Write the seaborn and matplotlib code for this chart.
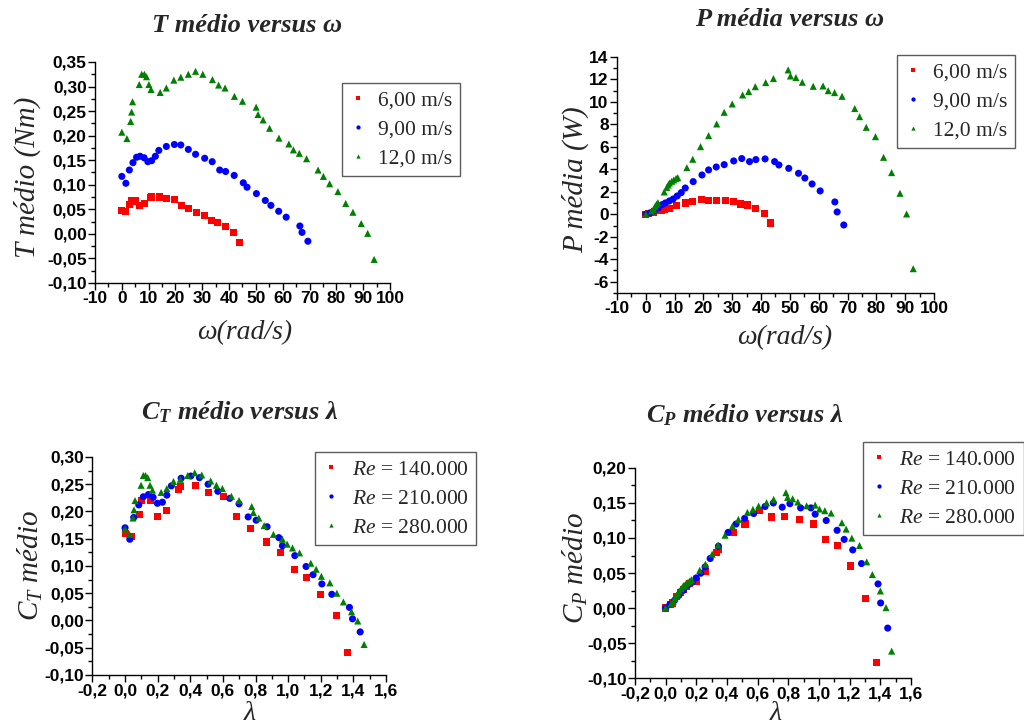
import numpy as np
import pandas as pd
import matplotlib
matplotlib.use("Agg")
import matplotlib.pyplot as plt
import seaborn as sns
from matplotlib.ticker import MultipleLocator, FuncFormatter

# ---------------- data ----------------
# Panel 1: T medio vs omega
w6_T = [0, 1.4, 2.9, 3.65, 5.0, 6.5, 8.4, 10.7, 10.9, 14.0, 16.5, 19.5, 22.1, 24.8, 27.9,
        30.8, 33.5, 35.7, 38.6, 41.8, 44.0]
T6 = [0.048, 0.046, 0.059, 0.067, 0.067, 0.057, 0.061, 0.074, 0.075, 0.075, 0.072, 0.070,
      0.057, 0.051, 0.044, 0.038, 0.028, 0.024, 0.015, 0.002, -0.018]
w9_T = [0, 1.5, 2.8, 4.15, 5.5, 6.8, 8.3, 9.7, 11.1, 12.5, 13.8, 16.6, 19.6, 22.0, 24.8, 27.5,
        30.9, 33.7, 36.5, 38.7, 41.9, 45.3, 46.7, 50.2, 53.5, 55.6, 58.5, 61.3, 66.4, 67.2, 69.4]
T9 = [0.117, 0.103, 0.130, 0.145, 0.156, 0.158, 0.155, 0.147, 0.149, 0.158, 0.170, 0.178,
      0.182, 0.181, 0.172, 0.162, 0.154, 0.147, 0.130, 0.127, 0.119, 0.104, 0.095, 0.082,
      0.068, 0.058, 0.046, 0.034, 0.016, 0.003, -0.015]
w12_T = [0, 1.9, 3.3, 3.65, 4.0, 6.5, 7.4, 8.4, 9.2, 10.1, 10.9, 14.3, 16.6, 19.4, 22.0, 24.8,
         27.5, 30.2, 33.8, 36.1, 38.5, 42.0, 45.0, 50.1, 50.8, 52.7, 55.1, 58.6, 62.3, 64.0,
         66.2, 68.9, 73.2, 75.2, 77.5, 80.6, 83.5, 86.2, 89.3, 91.7, 94.1]
T12 = [0.207, 0.194, 0.229, 0.248, 0.269, 0.304, 0.325, 0.325, 0.320, 0.304, 0.294, 0.288,
       0.297, 0.313, 0.319, 0.325, 0.331, 0.325, 0.314, 0.303, 0.297, 0.280, 0.270, 0.258,
       0.243, 0.232, 0.215, 0.195, 0.183, 0.171, 0.164, 0.153, 0.130, 0.117, 0.102, 0.086,
       0.062, 0.044, 0.021, 0.001, -0.052]

# Panel 2: P media vs omega
w6_P = [0, 1.0, 2.7, 4.2, 5.3, 6.6, 8.2, 10.7, 13.9, 16.2, 19.35, 21.8, 24.6, 27.6, 30.5,
        32.9, 35.3, 38.0, 41.1, 43.3]
P6 = [0, 0.06, 0.18, 0.30, 0.36, 0.42, 0.50, 0.77, 1.01, 1.13, 1.34, 1.25, 1.25, 1.19, 1.13,
      0.92, 0.83, 0.53, 0.09, -0.77]
w9_P = [0, 1.4, 2.9, 4.3, 5.7, 6.8, 8.2, 9.5, 10.9, 12.3, 13.7, 16.45, 19.5, 21.8, 24.45,
        27.2, 30.5, 33.3, 36.0, 38.2, 41.4, 44.7, 46.2, 49.6, 53.0, 55.2, 57.7, 60.5, 65.6,
        66.4, 68.7]
P9 = [0, 0.12, 0.30, 0.56, 0.86, 1.01, 1.19, 1.36, 1.63, 1.93, 2.34, 2.91, 3.50, 3.95, 4.21,
      4.42, 4.75, 4.96, 4.69, 4.87, 4.93, 4.69, 4.39, 4.09, 3.65, 3.23, 2.70, 2.08, 1.10,
      0.21, -0.95]
w12_P = [0, 2.0, 2.7, 3.2, 3.7, 4.2, 6.4, 7.3, 7.8, 8.2, 9.0, 9.7, 10.5, 11.1, 14.25, 16.3,
         19.0, 21.8, 24.6, 27.2, 30.0, 33.6, 35.7, 38.0, 41.6, 44.3, 49.4, 50.2, 52.1, 54.3,
         58.1, 61.5, 63.3, 65.5, 68.1, 72.5, 74.2, 76.5, 79.7, 82.5, 85.3, 88.2, 90.5, 92.8]
P12 = [0, 0.30, 0.45, 0.68, 0.89, 1.04, 1.99, 2.40, 2.61, 2.79, 2.94, 3.06, 3.20, 3.26, 4.15,
       4.90, 6.02, 7.00, 8.04, 9.08, 9.82, 10.62, 10.92, 11.36, 11.72, 12.08, 12.85, 12.31,
       12.17, 11.75, 11.39, 11.42, 11.00, 10.83, 10.50, 9.41, 8.69, 7.74, 6.91, 5.07, 3.71,
       1.87, 0.03, -4.84]

# Panel 3: C_T vs lambda
l140_T = [0.0, 0.039, 0.088, 0.10, 0.157, 0.198, 0.255, 0.327, 0.339, 0.434, 0.511, 0.603,
          0.685, 0.769, 0.869, 0.955, 1.039, 1.112, 1.196, 1.299, 1.366]
CT140 = [0.159, 0.154, 0.195, 0.220, 0.220, 0.190, 0.202, 0.240, 0.245, 0.247, 0.235, 0.228,
         0.190, 0.169, 0.144, 0.124, 0.094, 0.079, 0.048, 0.009, -0.059]
l210_T = [0.0, 0.029, 0.053, 0.084, 0.112, 0.143, 0.172, 0.198, 0.229, 0.256, 0.284, 0.344,
          0.403, 0.456, 0.509, 0.569, 0.642, 0.699, 0.755, 0.804, 0.871, 0.943, 0.965, 1.041,
          1.110, 1.153, 1.207, 1.268, 1.376, 1.395, 1.442]
CT210 = [0.170, 0.149, 0.189, 0.212, 0.227, 0.231, 0.226, 0.215, 0.217, 0.230, 0.247, 0.261,
         0.265, 0.262, 0.250, 0.237, 0.224, 0.214, 0.190, 0.184, 0.172, 0.152, 0.137, 0.119,
         0.099, 0.084, 0.067, 0.048, 0.024, 0.003, -0.021]
l280_T = [0.0, 0.027, 0.049, 0.055, 0.061, 0.098, 0.112, 0.125, 0.139, 0.153, 0.168, 0.221,
          0.256, 0.297, 0.339, 0.384, 0.427, 0.470, 0.525, 0.560, 0.597, 0.652, 0.699, 0.777,
          0.787, 0.820, 0.853, 0.910, 0.965, 0.994, 1.027, 1.070, 1.139, 1.172, 1.204, 1.256,
          1.299, 1.339, 1.389, 1.427, 1.466]
CT280 = [0.168, 0.158, 0.188, 0.203, 0.220, 0.248, 0.266, 0.266, 0.262, 0.248, 0.239, 0.235,
         0.242, 0.255, 0.259, 0.266, 0.271, 0.267, 0.256, 0.248, 0.242, 0.228, 0.220, 0.209,
         0.198, 0.188, 0.174, 0.158, 0.149, 0.140, 0.133, 0.124, 0.105, 0.094, 0.081, 0.069,
         0.050, 0.034, 0.016, -0.001, -0.044]

# Panel 4: C_P vs lambda
l140_P = [0, 0.033, 0.043, 0.072, 0.095, 0.117, 0.134, 0.158, 0.202, 0.26, 0.33, 0.343, 0.44,
          0.518, 0.612, 0.69, 0.777, 0.876, 0.963, 1.046, 1.119, 1.206, 1.306, 1.377]
CP140 = [0, 0.0053, 0.0072, 0.0158, 0.0215, 0.0263, 0.031, 0.0349, 0.0382, 0.052, 0.079,
         0.0836, 0.108, 0.120, 0.139, 0.130, 0.131, 0.126, 0.120, 0.098, 0.089, 0.060, 0.013,
         -0.078]
l210_P = [0, 0.028, 0.059, 0.087, 0.117, 0.145, 0.174, 0.2, 0.23, 0.258, 0.291, 0.345, 0.408,
          0.46, 0.516, 0.575, 0.649, 0.703, 0.761, 0.811, 0.881, 0.948, 0.976, 1.048, 1.119,
          1.165, 1.221, 1.278, 1.386, 1.403, 1.449]
CP210 = [0, 0.0048, 0.011, 0.018, 0.0253, 0.0325, 0.0368, 0.043, 0.0497, 0.0587, 0.0707,
         0.0883, 0.108, 0.120, 0.128, 0.135, 0.145, 0.150, 0.144, 0.149, 0.143, 0.143, 0.134,
         0.125, 0.111, 0.098, 0.083, 0.0635, 0.0344, 0.0072, -0.0287]
l280_P = [0, 0.035, 0.05, 0.061, 0.072, 0.080, 0.089, 0.102, 0.113, 0.121, 0.134, 0.147, 0.158,
          0.169, 0.223, 0.26, 0.304, 0.343, 0.388, 0.436, 0.475, 0.534, 0.570, 0.607, 0.659,
          0.705, 0.785, 0.796, 0.829, 0.863, 0.920, 0.976, 1.004, 1.039, 1.08, 1.15, 1.178,
          1.215, 1.265, 1.312, 1.349, 1.401, 1.438, 1.475]
CP280 = [0, 0.0057, 0.010, 0.0138, 0.0181, 0.021, 0.0244, 0.0277, 0.0306, 0.0325, 0.0349,
         0.0368, 0.0387, 0.0406, 0.054, 0.0626, 0.0769, 0.090, 0.104, 0.117, 0.1266, 0.1366,
         0.1409, 0.1457, 0.1504, 0.1552, 0.1648, 0.158, 0.156, 0.1514, 0.146, 0.147, 0.1414,
         0.139, 0.1356, 0.1218, 0.1127, 0.0998, 0.0893, 0.0659, 0.0478, 0.0244, 0.0005,
         -0.0616]

speed_labels = ["6,00 m/s", "9,00 m/s", "12,0 m/s"]
re_labels = [r"$Re$ = 140.000", r"$Re$ = 210.000", r"$Re$ = 280.000"]

# ---------------- style ----------------
sns.set_style("ticks")
plt.rcParams["font.family"] = ["Liberation Sans", "DejaVu Sans"]
plt.rcParams["mathtext.fontset"] = "custom"
plt.rcParams["mathtext.rm"] = "Liberation Serif"
plt.rcParams["mathtext.it"] = "Liberation Serif:italic"
plt.rcParams["mathtext.bf"] = "Liberation Serif:bold:italic"
plt.rcParams["xtick.direction"] = "out"
plt.rcParams["ytick.direction"] = "out"

colors = ["#ff0000", "#0000ff", "#008000"]
markers = ["s", "o", "^"]
SERIF = ["Liberation Serif", "DejaVu Serif"]

fig = plt.figure(figsize=(10.24, 7.25), dpi=100)
ax1 = fig.add_axes([0.0928, 0.6097, 0.288, 0.3048])
ax2 = fig.add_axes([0.6025, 0.5959, 0.3096, 0.3255])
ax3 = fig.add_axes([0.0903, 0.0690, 0.2866, 0.3007])
ax4 = fig.add_axes([0.6200, 0.0648, 0.2695, 0.2897])


def make_df(xs, ys, labels):
    frames = []
    for x, y, lab in zip(xs, ys, labels):
        frames.append(pd.DataFrame({"x": x, "y": y, "serie": lab}))
    return pd.concat(frames, ignore_index=True)


def draw(ax, df, labels):
    sns.scatterplot(data=df, x="x", y="y", hue="serie", style="serie",
                    hue_order=labels, style_order=labels,
                    palette=colors, markers=markers, s=26, linewidth=0,
                    ax=ax, legend="full")


def comma(dec):
    return FuncFormatter(lambda v, p: f"{v:.{dec}f}".replace(".", ","))


def style_axes(ax, xlim, ylim, xmaj, xmin, ymaj, ymin, xdec, ydec):
    ax.set_xlim(*xlim)
    ax.set_ylim(*ylim)
    ax.xaxis.set_major_locator(MultipleLocator(xmaj))
    ax.xaxis.set_minor_locator(MultipleLocator(xmin))
    ax.yaxis.set_major_locator(MultipleLocator(ymaj))
    ax.yaxis.set_minor_locator(MultipleLocator(ymin))
    ax.xaxis.set_major_formatter(comma(xdec))
    ax.yaxis.set_major_formatter(comma(ydec))
    for s in ["top", "right"]:
        ax.spines[s].set_visible(False)
    for s in ["left", "bottom"]:
        ax.spines[s].set_linewidth(1.0)
        ax.spines[s].set_color("black")
    ax.tick_params(which="major", length=5, width=1, color="black", pad=1)
    ax.tick_params(which="minor", length=3, width=1, color="black")
    for lab in ax.get_xticklabels() + ax.get_yticklabels():
        lab.set_fontweight("bold")
        lab.set_fontsize(12.5)
        lab.set_color("black")
    ax.set_xlabel("")
    ax.set_ylabel("")


def legend(ax, anchor, labels):
    h, l = ax.get_legend_handles_labels()
    leg = ax.legend(h, labels, loc="upper left", bbox_to_anchor=anchor,
                    borderaxespad=0, frameon=True, fancybox=False,
                    prop={"family": SERIF, "size": 15.5}, markerscale=0.6,
                    handlelength=0.8, handletextpad=0.55, labelspacing=0.42,
                    borderpad=0.35)
    leg.get_frame().set_edgecolor("#333333")
    leg.get_frame().set_linewidth(1.0)
    leg.set_clip_on(False)


# Panel 1
df1 = make_df([w6_T, w9_T, w12_T], [T6, T9, T12], speed_labels)
draw(ax1, df1, speed_labels)
style_axes(ax1, (-10, 100), (-0.10, 0.35), 10, 5, 0.05, 0.025, 0, 2)
legend(ax1, (0.837, 0.905), speed_labels)

# Panel 2
df2 = make_df([w6_P, w9_P, w12_P], [P6, P9, P12], speed_labels)
draw(ax2, df2, speed_labels)
style_axes(ax2, (-10, 100), (-7, 14), 10, 5, 2, 1, 0, 0)
legend(ax2, (0.883, 1.008), speed_labels)

# Panel 3
df3 = make_df([l140_T, l210_T, l280_T], [CT140, CT210, CT280], re_labels)
draw(ax3, df3, re_labels)
style_axes(ax3, (-0.2, 1.6), (-0.10, 0.30), 0.2, 0.1, 0.05, 0.025, 1, 2)
legend(ax3, (0.758, 1.023), re_labels)

# Panel 4
df4 = make_df([l140_P, l210_P, l280_P], [CP140, CP210, CP280], re_labels)
draw(ax4, df4, re_labels)
style_axes(ax4, (-0.2, 1.6), (-0.10, 0.20), 0.2, 0.1, 0.05, 0.025, 1, 2)
legend(ax4, (0.826, 1.124), re_labels)

# Titles and axis labels (figure coordinates from pixel positions)
def ftext(x, y, s, **kw):
    fig.text(x / 1024, 1 - y / 725, s, ha="center", va="center", family=SERIF, **kw)

ftext(247, 25, "T médio versus ω", fontsize=19, fontweight="bold", style="italic")
ftext(790, 20, "P média versus ω", fontsize=19, fontweight="bold", style="italic")
ftext(240, 412, r"$\mathbf{C}_\mathbf{T}$ médio versus λ", fontsize=19, fontweight="bold", style="italic")
ftext(745, 415, r"$\mathbf{C}_\mathbf{P}$ médio versus λ", fontsize=19, fontweight="bold", style="italic")

ftext(245, 333, "ω(rad/s)", fontsize=20, style="italic")
ftext(785, 338, "ω(rad/s)", fontsize=20, style="italic")
ftext(250, 714, "λ", fontsize=20, style="italic")
ftext(776, 714, "λ", fontsize=20, style="italic")

ftext(27, 177, "T médio (Nm)", fontsize=21, style="italic", rotation=90)
ftext(575, 180, "P média (W)", fontsize=21, style="italic", rotation=90)
ftext(30, 565, r"$C_T$ médio", fontsize=21, style="italic", rotation=90)
ftext(575, 568, r"$C_P$ médio", fontsize=21, style="italic", rotation=90)

fig.savefig("out.png", dpi=100)
